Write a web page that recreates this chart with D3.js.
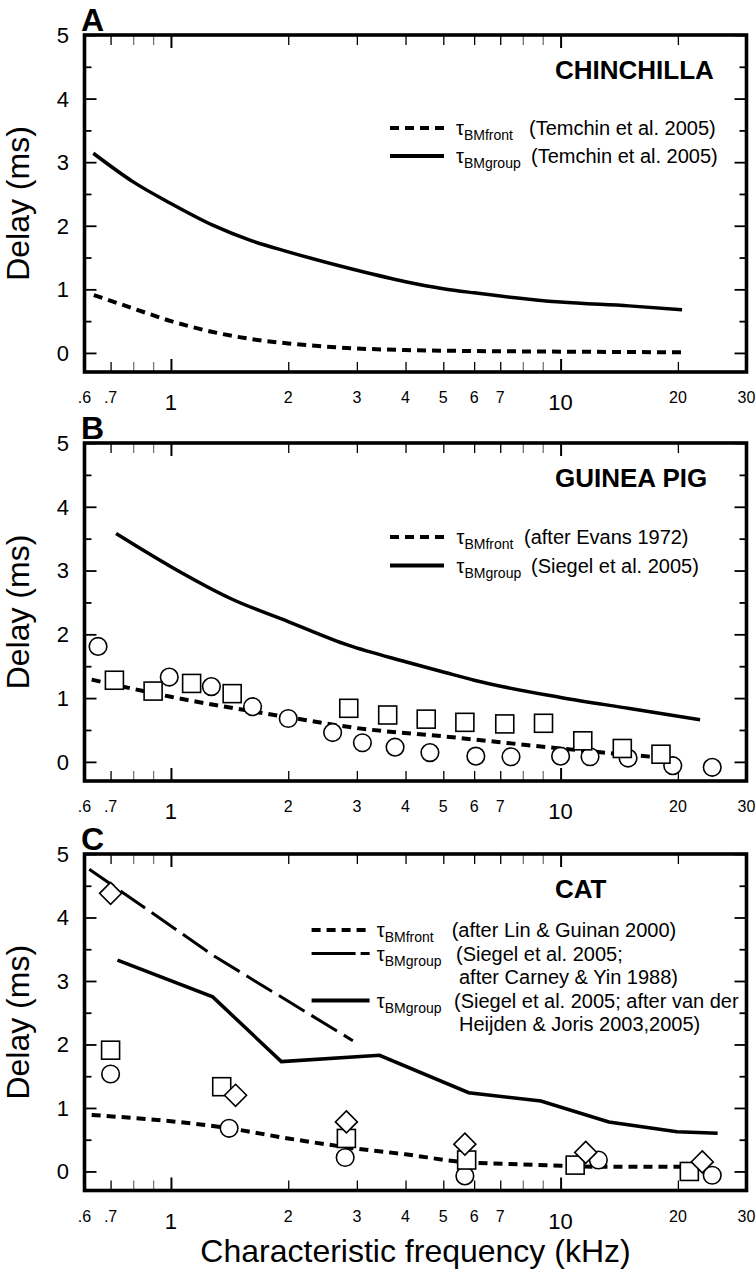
<!DOCTYPE html>
<html><head><meta charset="utf-8">
<script src="https://cdn.jsdelivr.net/npm/d3@7"></script>
<style>body{margin:0;background:#fff} svg{display:block} text{font-family:"Liberation Sans",Arial,Helvetica,sans-serif;fill:#000}</style>
</head><body><svg id="c" width="756" height="1270"></svg>
<script>
// ---------- data ----------
const xTickValues = [0.7,0.8,0.9,1,2,3,4,5,6,7,8,9,10,20];
const xLabelValues = [0.6,0.7,1,2,3,4,5,6,7,10,20,30];
const xLabelTexts  = [".6",".7","1","2","3","4","5","6","7","10","20","30"];
const yMajorTicks = [0,1,2,3,4,5];
const yMinorTicks = [0.5,1.5,2.5,3.5,4.5];
const yLabels = ["0","1","2","3","4","5"];

// Panel A – chinchilla
const chinFront = [[0.634,0.91],[0.8,0.70],[1,0.50],[1.28,0.33],[1.6,0.22],[2,0.15],[3,0.07],[4,0.045],[6,0.03],[10,0.02],[20.5,0.01]];
const chinGroup = [[0.632,3.14],[0.8,2.69],[1,2.35],[1.28,2.01],[1.6,1.77],[2,1.59],[3,1.30],[4,1.12],[5,1.01],[6,0.945],[10,0.80],[15,0.74],[20.5,0.68]];

// Panel B – guinea pig
const gpFront = [[0.626,1.29],[1,1.02],[2,0.70],[3,0.53],[5,0.40],[10,0.21],[15,0.11],[18.7,0.06]];
const gpGroup = [[0.723,3.58],[1,3.06],[1.436,2.55],[2,2.20],[2.85,1.83],[4,1.57],[5,1.41],[6,1.28],[10,1.01],[14.9,0.84],[22.8,0.66]];
const gpCircles = [[0.65,1.81],[0.99,1.33],[1.27,1.18],[1.62,0.865],[2,0.68],[2.6,0.46],[3.1,0.30],[3.76,0.23],[4.62,0.145],[6.06,0.09],[7.46,0.08],[10,0.09],[11.9,0.08],[14.9,0.06],[19.4,-0.06],[24.5,-0.085]];
const gpSquares = [[0.716,1.28],[0.90,1.11],[1.13,1.23],[1.436,1.07],[2.86,0.84],[3.6,0.735],[4.52,0.67],[5.68,0.62],[7.19,0.595],[9.04,0.605],[11.4,0.33],[14.4,0.21],[18.1,0.12]];

// Panel C – cat
const catFront = [[0.626,0.89],[1.41,0.68],[2,0.52],[3,0.36],[4,0.27],[5.6,0.15],[7.3,0.12],[10,0.09],[12.5,0.075],[21,0.075]];
const catGroupCY = [[0.617,4.76],[1.3,3.38],[2.93,2.06]];
const catGroupVH = [[0.729,3.33],[1.28,2.75],[1.92,1.73],[3.43,1.83],[5.81,1.24],[8.9,1.11],[13.3,0.78],[19.9,0.625],[25.3,0.60]];
const catCircles = [[0.70,1.535],[1.41,0.68],[2.8,0.22],[5.68,-0.07],[12.5,0.18],[24.5,-0.06]];
const catSquares = [[0.70,1.91],[1.35,1.335],[2.82,0.52],[5.74,0.18],[10.9,0.10],[21.4,0.00]];
const catDiamonds = [[0.70,4.38],[1.465,1.20],[2.82,0.78],[5.68,0.43],[11.6,0.30],[23.1,0.15]];

// ---------- drawing ----------
const svg = d3.select('#c');
const x = d3.scaleLog().domain([0.6,30]).range([84.5,746.5]);

const styles = {
  front: {w:4, dash:'9,6'},
  group: {w:3.5, dash:null},
  longdash: {w:3, dash:'30,8'}
};

const panels = [
  {label:'A', title:'CHINCHILLA', top:35, bottom:372,
   lines:[{data:chinFront,s:'front',curve:d3.curveMonotoneX},{data:chinGroup,s:'group',curve:d3.curveMonotoneX}],
   markers:[],
   legendLine:[390,444], tauX:456,
   legend:[{s:'front',base:135,sub:'BMfront',rest:'(Temchin et al. 2005)',rx:529},
           {s:'group',base:163,sub:'BMgroup',rest:'(Temchin et al. 2005)',rx:531}]},
  {label:'B', title:'GUINEA PIG', top:443, bottom:781,
   lines:[{data:gpFront,s:'front',curve:d3.curveMonotoneX},{data:gpGroup,s:'group',curve:d3.curveMonotoneX}],
   markers:[{data:gpCircles,t:'circle'},{data:gpSquares,t:'square'}],
   legendLine:[390,444], tauX:456.5,
   legend:[{s:'front',base:544,sub:'BMfront',rest:'(after Evans 1972)',rx:524},
           {s:'group',base:572.5,sub:'BMgroup',rest:'(Siegel et al. 2005)',rx:531}]},
  {label:'C', title:'CAT', top:854, bottom:1190.5,
   lines:[{data:catFront,s:'front',curve:d3.curveMonotoneX},{data:catGroupCY,s:'longdash',curve:d3.curveLinear},{data:catGroupVH,s:'group',curve:d3.curveLinear}],
   markers:[{data:catCircles,t:'circle'},{data:catSquares,t:'square'},{data:catDiamonds,t:'diamond'}],
   legendLine:[311.6,369.6], tauX:376.8,
   legend:[{s:'front',base:937,sub:'BMfront',rest:'(after Lin & Guinan 2000)',rx:451.7},
           {s:'longdash',base:960.5,sub:'BMgroup',rest:'(Siegel et al. 2005;',rx:456},
           {s:null,base:984,sub:null,rest:'after Carney & Yin 1988)',rx:459},
           {s:'group',base:1007.5,sub:'BMgroup',rest:'(Siegel et al. 2005; after van der',rx:454},
           {s:null,base:1031,sub:null,rest:'Heijden & Joris 2003,2005)',rx:459}]}
];

panels.forEach(p => {
  const y = d3.scaleLinear().domain([-0.3,5]).range([p.bottom,p.top]);
  const g = svg.append('g');

  // ticks bottom/top
  const bt = g.append('g').attr('transform',`translate(0,${p.bottom})`)
    .call(d3.axisBottom(x).tickValues(xTickValues).tickSize(-10).tickFormat(''));
  const tt = g.append('g').attr('transform',`translate(0,${p.top})`)
    .call(d3.axisTop(x).tickValues(xTickValues).tickSize(-10).tickFormat(''));
  [bt,tt].forEach((ax,i) => {
    ax.select('.domain').remove();
    ax.selectAll('.tick line')
      .attr('stroke', d => (d===0.8||d===0.9||d===8||d===9) ? '#777' : '#000')
      .attr('stroke-width', d => (d===1||d===10) ? 2 : 1.3)
      .attr('y2', d => ((d===1||d===10) ? 13 : 10) * (i===0 ? -1 : 1));
  });
  // y ticks
  [[d3.axisLeft,84.5],[d3.axisRight,746.5]].forEach(([fn,xp]) => {
    const a1 = g.append('g').attr('transform',`translate(${xp},0)`).call(fn(y).tickValues(yMajorTicks).tickSize(-12).tickFormat(''));
    const a2 = g.append('g').attr('transform',`translate(${xp},0)`).call(fn(y).tickValues(yMinorTicks).tickSize(-7).tickFormat(''));
    [a1,a2].forEach(a => { a.select('.domain').remove(); a.selectAll('.tick line').attr('stroke','#000').attr('stroke-width',1.8); });
  });

  // y labels
  g.selectAll('.ylab').data(yMajorTicks).enter().append('text')
    .attr('x',69).attr('y',d=>y(d)).attr('dy','0.36em').attr('text-anchor','end')
    .attr('font-size',22).text((d,i)=>yLabels[i]);
  // x labels
  g.selectAll('.xlab').data(xLabelValues).enter().append('text')
    .attr('x',d=>x(d)).attr('y',d=>(d===1||d===10)? p.bottom+38 : p.bottom+31)
    .attr('text-anchor','middle')
    .attr('font-size',d=>(d===1||d===10)?22:16).text((d,i)=>xLabelTexts[i]);

  // y title
  g.append('text').attr('transform',`translate(29,${(p.top+p.bottom)/2}) rotate(-90)`)
    .attr('text-anchor','middle').attr('font-size',32).text('Delay (ms)');
  // panel label
  g.append('text').attr('x',81).attr('y',p.top-4).attr('font-size',32).attr('font-weight','bold').text(p.label);
  // species title
  g.append('text').attr('x',555).attr('y',p.top+44).attr('font-size',26).attr('font-weight','bold').text(p.title);

  // lines
  p.lines.forEach(l => {
    const st = styles[l.s];
    g.append('path').datum(l.data)
      .attr('d', d3.line().x(d=>x(d[0])).y(d=>y(d[1])).curve(l.curve))
      .attr('fill','none').attr('stroke','#000').attr('stroke-width',st.w)
      .attr('stroke-dasharray',st.dash);
  });
  // markers
  p.markers.forEach(m => {
    const sel = g.selectAll(null).data(m.data).enter();
    if (m.t==='circle') {
      sel.append('circle').attr('cx',d=>x(d[0])).attr('cy',d=>y(d[1])).attr('r',8.8)
        .attr('fill','#fff').attr('stroke','#000').attr('stroke-width',1.6);
    } else if (m.t==='square') {
      sel.append('rect').attr('x',d=>x(d[0])-9).attr('y',d=>y(d[1])-9).attr('width',18).attr('height',18)
        .attr('fill','#fff').attr('stroke','#000').attr('stroke-width',1.6);
    } else {
      sel.append('path').attr('transform',d=>`translate(${x(d[0])},${y(d[1])})`)
        .attr('d','M0,-11L11,0L0,11L-11,0Z')
        .attr('fill','#fff').attr('stroke','#000').attr('stroke-width',1.6);
    }
  });

  // legend
  p.legend.forEach(L => {
    if (L.s) {
      const st = styles[L.s];
      g.append('line').attr('x1',p.legendLine[0]).attr('x2',p.legendLine[1])
        .attr('y1',L.base-7).attr('y2',L.base-7)
        .attr('stroke','#000').attr('stroke-width',st.w + (L.s==='group'?0.5:0))
        .attr('stroke-dasharray', L.s==='longdash' ? '44,5' : st.dash);
    }
    const t = g.append('text').attr('y',L.base).attr('font-size',20);
    if (L.sub) {
      t.append('tspan').attr('x',p.tauX).text('τ');
      t.append('tspan').attr('font-size',14).attr('dy',5).text(L.sub);
    }
    t.append('tspan').attr('x',L.rx).attr('y',L.base).text(L.rest);
  });

  // frame
  g.append('rect').attr('x',84.5).attr('y',p.top).attr('width',662).attr('height',p.bottom-p.top)
    .attr('fill','none').attr('stroke','#000').attr('stroke-width',3.6);
});

svg.append('text').attr('x',415.5).attr('y',1262).attr('text-anchor','middle')
  .attr('font-size',32).text('Characteristic frequency (kHz)');
</script></body></html>
